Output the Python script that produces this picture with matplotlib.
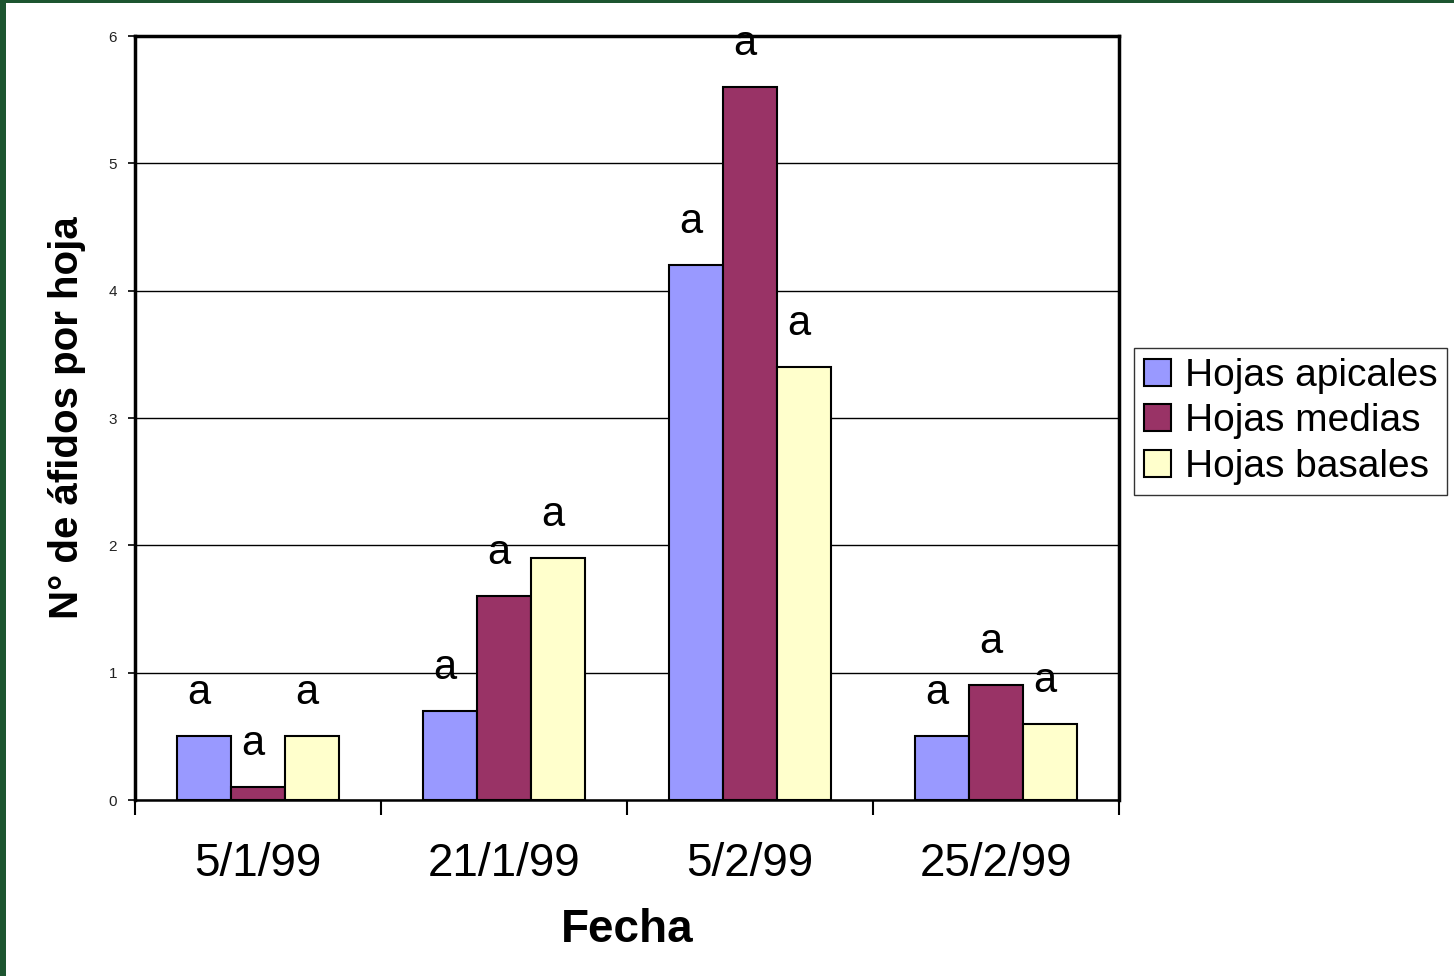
import matplotlib
matplotlib.use("Agg")
import matplotlib.pyplot as plt
from matplotlib.patches import Rectangle
import numpy as np

plt.rcParams['font.family'] = ['Liberation Sans', 'DejaVu Sans']

fechas = ["5/1/99", "21/1/99", "5/2/99", "25/2/99"]
series = ["Hojas apicales", "Hojas medias", "Hojas basales"]
apicales = [0.5, 0.7, 4.2, 0.5]
medias = [0.1, 1.6, 5.6, 0.9]
basales = [0.5, 1.9, 3.4, 0.6]
letras = [["a", "a", "a", "a"],
          ["a", "a", "a", "a"],
          ["a", "a", "a", "a"]]
colores = ["#9999FF", "#993366", "#FFFFCC"]

W, H = 1454, 976
fig = plt.figure(figsize=(W / 100, H / 100), dpi=100)
fig.patch.set_facecolor("#1d5530")
fig.patches.append(Rectangle((6 / W, 0), 1 - 6 / W, 1 - 3 / H,
                             transform=fig.transFigure, facecolor="white",
                             edgecolor="none", zorder=-10))

ax = fig.add_axes([135 / W, 1 - 800 / H, (1119 - 135) / W, (800 - 36) / H])
ax.set_facecolor("white")

x = np.arange(len(fechas))
width = 0.22
valores = [apicales, medias, basales]
for i, (nombre, vals, col) in enumerate(zip(series, valores, colores)):
    pos = x + (i - 1) * width
    bars = ax.bar(pos, vals, width, color=col, edgecolor="black",
                  linewidth=1.5, label=nombre, zorder=3)
    for b, v, t in zip(bars, vals, letras[i]):
        ax.annotate(t, (b.get_x() + b.get_width() / 2, v),
                    xytext=(-4, 31), textcoords="offset points",
                    ha="center", va="center", fontsize=30, color="black")

ax.set_xlim(-0.5, 3.5)
ax.set_ylim(0, 6)
ax.set_yticks(range(0, 7))
ax.yaxis.grid(True, color="black", linewidth=1.0, zorder=0)
ax.set_axisbelow(True)
ax.tick_params(axis="y", labelsize=11, labelcolor="#222222", length=5,
               width=1.2, pad=8)

# Tick marks at the category boundaries, labels at the centres
ax.set_xticks(np.arange(-0.5, 4.0, 1.0))
ax.set_xticklabels([])
ax.tick_params(axis="x", which="major", length=11, width=1.5, direction="out")
ax.set_xticks(x, minor=True)
ax.set_xticklabels(fechas, minor=True, fontsize=33)
ax.tick_params(axis="x", which="minor", length=0, pad=30)

for s in ["left", "top", "right"]:
    ax.spines[s].set_linewidth(2.5)
ax.spines["bottom"].set_linewidth(1.8)

fig.text(627 / W, 1 - 930 / H, "Fecha", ha="center", va="center",
         fontsize=33, fontweight="bold")
fig.text(67 / W, 1 - 418 / H, "N° de áfidos por hoja", ha="center",
         va="center", rotation=90, fontsize=29, fontweight="bold")

leg = fig.legend(loc="upper left", bbox_to_anchor=(1134 / W, 1 - 348 / H),
                 fontsize=28, frameon=True, fancybox=False, edgecolor="black",
                 handlelength=0.7, handleheight=0.7, handletextpad=0.35,
                 borderpad=0.25, labelspacing=0.25, borderaxespad=0)
leg.get_frame().set_linewidth(1.0)

fig.savefig("out.png", dpi=100, facecolor=fig.get_facecolor())
